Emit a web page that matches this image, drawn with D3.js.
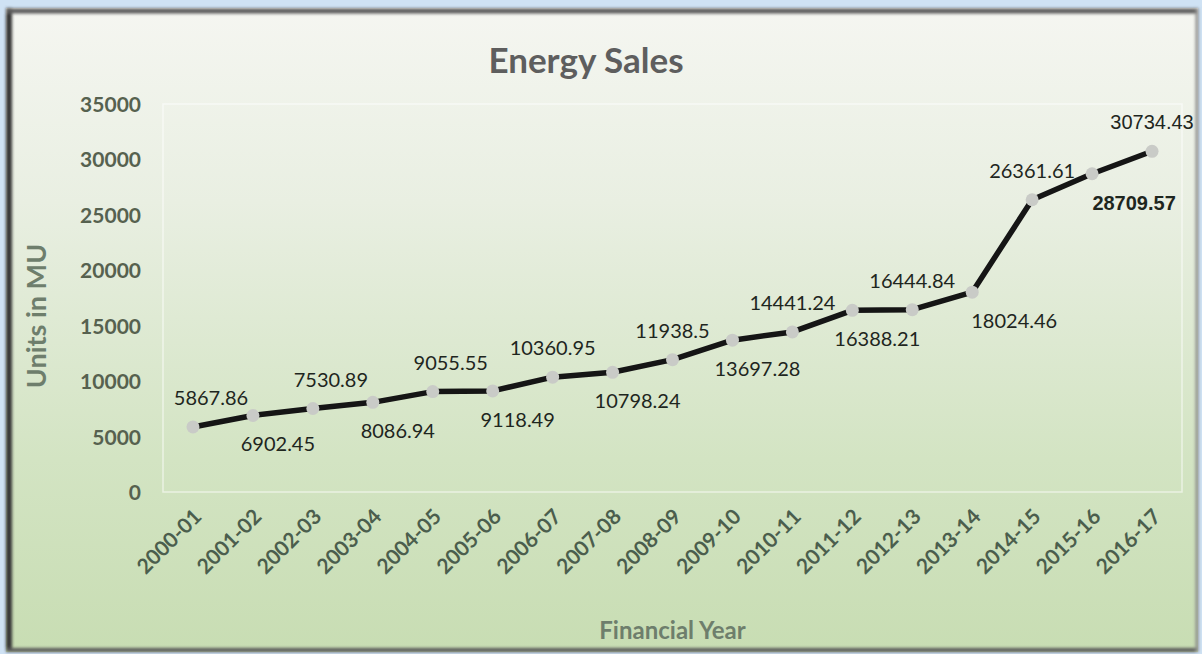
<!DOCTYPE html>
<html>
<head>
<meta charset="utf-8">
<script src="https://cdn.jsdelivr.net/npm/d3@7"></script>
<style>
  body { margin: 0; background: #cfe2f4; }
  svg { display: block; }
</style>
</head>
<body>
<svg class="chart-svg" width="1202" height="654"></svg>
<script>
'use strict'

// data
const years = ['2000-01', '2001-02', '2002-03', '2003-04', '2004-05', '2005-06', '2006-07',
  '2007-08', '2008-09', '2009-10', '2010-11', '2011-12', '2012-13', '2013-14', '2014-15',
  '2015-16', '2016-17']
const sales = [5867.86, 6902.45, 7530.89, 8086.94, 9055.55, 9118.49, 10360.95, 10798.24,
  11938.5, 13697.28, 14441.24, 16388.21, 16444.84, 18024.46, 26361.61, 28709.57, 30734.43]
const yTicks = [0, 5000, 10000, 15000, 20000, 25000, 30000, 35000]

const svg = d3.select('.chart-svg')
const plot = { left: 163, right: 1182, top: 104, bottom: 492 }
const font = 'Lato, "Open Sans", sans-serif'

// background gradient + soft frame shadow
const defs = svg.append('defs')
const grad = defs.append('linearGradient').attr('id', 'bg').attr('x1', 0).attr('y1', 0).attr('x2', 0).attr('y2', 1)
grad.append('stop').attr('offset', '0%').attr('stop-color', '#f5f6f1')
grad.append('stop').attr('offset', '30%').attr('stop-color', '#e9efe2')
grad.append('stop').attr('offset', '70%').attr('stop-color', '#d3e4c3')
grad.append('stop').attr('offset', '100%').attr('stop-color', '#c8ddb3')
defs.append('filter').attr('id', 'soft').append('feGaussianBlur').attr('stdDeviation', 1.6)

svg.append('rect')
  .attr('x', 6).attr('y', 8).attr('width', 1192).attr('height', 644)
  .attr('fill', 'url(#bg)')

const frame = svg.append('g').attr('filter', 'url(#soft)')
frame.append('line').attr('x1', 9).attr('y1', 8).attr('x2', 9).attr('y2', 652).attr('stroke', '#363636').attr('stroke-width', 6)
frame.append('line').attr('x1', 6).attr('y1', 11).attr('x2', 1198).attr('y2', 11).attr('stroke', '#5c5c5c').attr('stroke-width', 5)
frame.append('line').attr('x1', 6).attr('y1', 650).attr('x2', 1198).attr('y2', 650).attr('stroke', '#5a5a5a').attr('stroke-width', 4)
frame.append('line').attr('x1', 1197).attr('y1', 8).attr('x2', 1197).attr('y2', 652).attr('stroke', '#8a8a8a').attr('stroke-width', 3)

// scales
const xScale = d3.scaleBand().domain(years).range([plot.left, plot.right]).padding(0)
const xPos = d => xScale(d) + xScale.bandwidth() / 2
const yScale = d3.scaleLinear().domain([0, 35000]).range([plot.bottom, plot.top])

// plot area outline (faint)
svg.append('rect')
  .attr('x', plot.left).attr('y', plot.top)
  .attr('width', plot.right - plot.left).attr('height', plot.bottom - plot.top)
  .attr('fill', 'none').attr('stroke', '#ffffff').attr('stroke-opacity', 0.55).attr('stroke-width', 1.5)

// title
svg.append('text')
  .attr('x', 586).attr('y', 73)
  .attr('text-anchor', 'middle')
  .style('font-family', font).style('font-size', '35px').style('font-weight', 700)
  .attr('fill', '#5e5e5e')
  .text('Energy Sales')

// y axis
const yAxis = d3.axisLeft(yScale).tickValues(yTicks).tickSize(0).tickPadding(0).tickFormat(d3.format('d'))
const gy = svg.append('g').attr('transform', 'translate(141,0)').call(yAxis)
gy.select('.domain').remove()
gy.selectAll('text')
  .attr('dy', '0.36em')
  .style('font-family', font).style('font-size', '21px').style('font-weight', 700)
  .attr('fill', '#56614f')

// x axis labels, rotated
const xAxis = d3.axisBottom(xScale).tickSize(0).tickPadding(0)
const gx = svg.append('g').attr('transform', 'translate(0,' + plot.bottom + ')').call(xAxis)
gx.select('.domain').remove()
gx.selectAll('text')
  .attr('text-anchor', 'end')
  .attr('dy', 0)
  .attr('transform', 'translate(10,26) rotate(-45)')
  .style('font-family', font).style('font-size', '21px').style('font-weight', 700)
  .attr('fill', '#4b5e4d')

// axis titles
svg.append('text')
  .attr('transform', 'translate(46,316) rotate(-90)')
  .attr('text-anchor', 'middle')
  .style('font-family', font).style('font-size', '27px').style('font-weight', 700)
  .attr('fill', '#6e7e6c')
  .text('Units in MU')

svg.append('text')
  .attr('x', (plot.left + plot.right) / 2).attr('y', 639)
  .attr('text-anchor', 'middle')
  .style('font-family', font).style('font-size', '24px').style('font-weight', 700)
  .attr('fill', '#6e7e6c')
  .text('Financial Year')

// line
const points = years.map((y, i) => ({ year: y, value: sales[i], i: i }))
svg.append('path')
  .datum(points)
  .attr('fill', 'none')
  .attr('stroke', '#151515')
  .attr('stroke-width', 5.5)
  .attr('stroke-linejoin', 'round')
  .attr('d', d3.line().x(d => xPos(d.year)).y(d => yScale(d.value)))

// markers
svg.append('g').selectAll('circle')
  .data(points)
  .join('circle')
  .attr('cx', d => xPos(d.year))
  .attr('cy', d => yScale(d.value))
  .attr('r', 6.5)
  .attr('fill', '#c9cbc7')

// data labels, alternating above / below
const labelDx = d => d.i % 2 === 0 ? (d.i < 6 ? 18 : 0) : (d.i >= 13 ? 42 : 25)
svg.append('g').selectAll('text')
  .data(points)
  .join('text')
  .attr('x', d => xPos(d.year) + labelDx(d))
  .attr('y', d => yScale(d.value) + (d.i % 2 === 0 ? -22 : 36))
  .attr('text-anchor', 'middle')
  .style('font-family', d => d.i >= 15 ? '"Liberation Sans", Arial, sans-serif' : font)
  .style('font-size', d => d.i >= 15 ? '20px' : '20px')
  .style('font-weight', d => d.i === 15 ? 700 : 400)
  .attr('fill', '#1e261e')
  .text(d => d3.format('.2~f')(d.value))
</script>
</body>
</html>
